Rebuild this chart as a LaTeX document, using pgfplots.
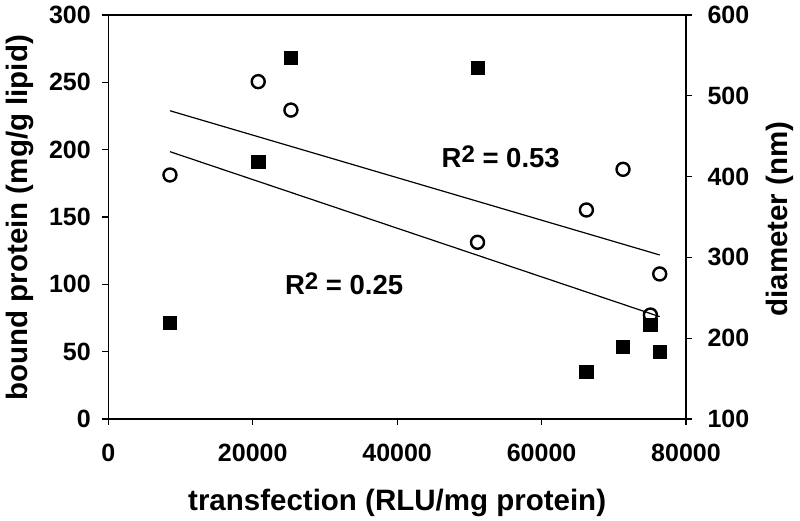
\documentclass[border=0pt]{standalone}
\usepackage{pgfplots}
\pgfplotsset{compat=1.18}
\usepackage{fontspec}
\setmainfont{Liberation Sans}
\newcommand\bigfont{\fontsize{25}{30}\selectfont\bfseries}
\newcommand\labfont{\fontsize{29.5}{34}\selectfont\bfseries}
\newcommand\rfont{\fontsize{27.5}{32}\selectfont\bfseries}
\begin{document}
\begin{tikzpicture}
\useasboundingbox (-108.3pt,-102pt) rectangle (691.7pt,419pt);
\begin{axis}[
  scale only axis, width=577.7pt, height=404pt,
  xmin=0, xmax=80000, ymin=0, ymax=300,
  axis x line*=bottom, axis y line*=left,
  axis line style={line width=1.3pt, black, -},
  xtick={0,20000,40000,60000,80000},
  ytick={0,50,100,150,200,250,300},
  scaled x ticks=false,
  /pgf/number format/assume math mode=true,
  xticklabel={\pgfmathprintnumber[1000 sep={}]{\tick}},
  tick align=outside, major tick length=6pt,
  tick style={line width=1.2pt, black},
  tick label style={font=\bigfont},
  yticklabel style={xshift=-8pt},
  xticklabel style={yshift=-16pt},
  every axis x label/.style={at={(axis description cs:0.5,-0.207)}, anchor=center, font=\labfont},
  every axis y label/.style={at={(axis description cs:-0.1537,0.498)}, rotate=90, anchor=center, font=\labfont},
  xlabel={transfection (RLU/mg protein)},
  ylabel={bound protein (mg/g lipid)},
  clip=false,
]
\addplot[line width=1.2pt, black] coordinates {(8540,228.9) (76360,121.8)};
\addplot[line width=1.2pt, black] coordinates {(8540,198.5) (76360,76.0)};
\addplot[only marks, mark=square*, mark size=6.6pt, mark options={fill=black, draw=black, line width=0pt}] coordinates {
(8540,71.5) (20810,191.1) (25290,267.8) (51210,260.9) (66210,35.1) (71280,53.7) (75070,69.8) (76360,49.5)};
\addplot[only marks, mark=o, mark size=6.5pt, mark options={draw=black, line width=2.4pt}] coordinates {
(8540,181.2) (20760,250.5) (25290,229.4) (51130,131.2) (66210,155.2) (71280,185.4) (75070,77.2) (76360,107.7)};
\node[anchor=base west, font=\rfont, inner sep=0pt] at (axis cs:46140,186.4) {R\raisebox{5pt}{\fontsize{24}{24}\selectfont\bfseries 2} = 0.53};
\node[anchor=base west, font=\rfont, inner sep=0pt] at (axis cs:24460,92.6) {R\raisebox{5pt}{\fontsize{24}{24}\selectfont\bfseries 2} = 0.25};
\end{axis}
\begin{axis}[
  scale only axis, width=577.7pt, height=404pt,
  xmin=0, xmax=80000, ymin=100, ymax=600,
  axis x line*=top, axis y line*=right,
  x axis line style={line width=1.3pt, black, -},
  y axis line style={line width=1.3pt, black, -},
  xtick=\empty,
  ytick={100,200,300,400,500,600},
  /pgf/number format/assume math mode=true,
  tick align=outside, major tick length=6pt,
  tick style={line width=1.2pt, black},
  tick label style={font=\bigfont},
  yticklabel style={xshift=12pt},
  every axis y label/.style={at={(axis description cs:1.163,0.495)}, rotate=90, anchor=center, font=\labfont},
  ylabel={diameter (nm)},
]
\addplot[draw=none] coordinates {(0,100) (80000,600)};
\end{axis}
\end{tikzpicture}
\end{document}
